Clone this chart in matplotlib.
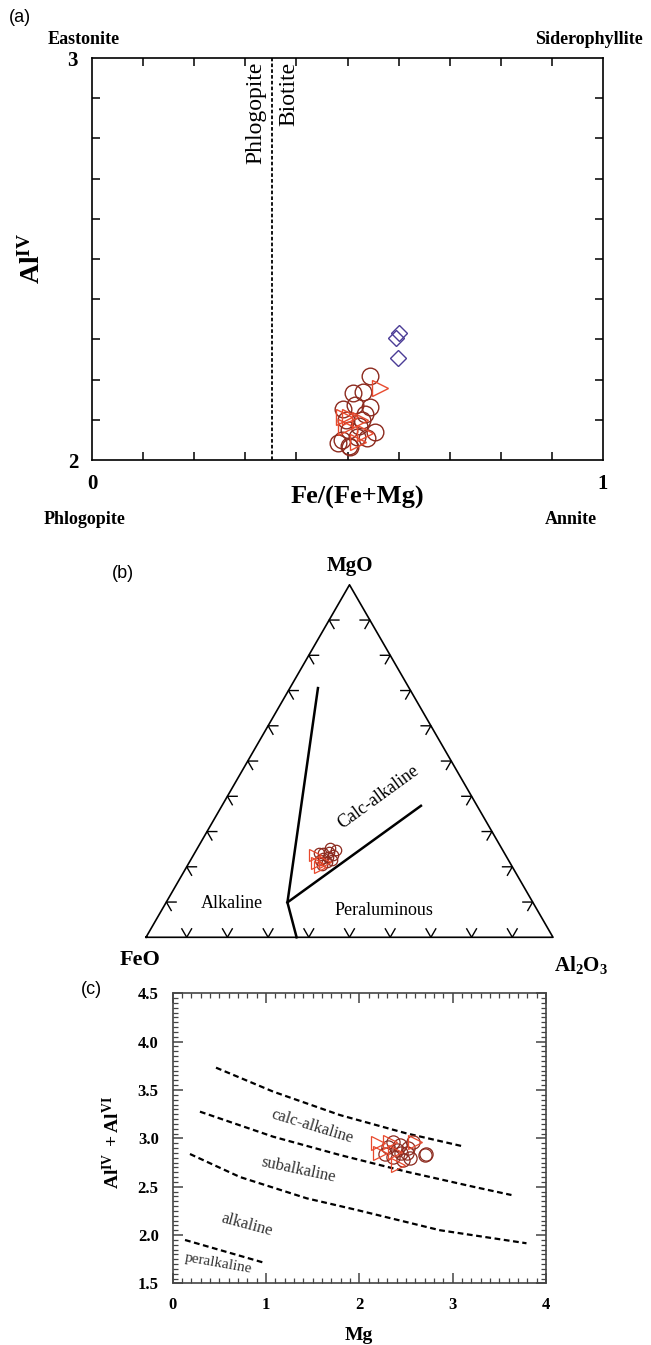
import numpy as np
import matplotlib
matplotlib.use("Agg")
import matplotlib.pyplot as plt
from matplotlib.ticker import MultipleLocator, FixedLocator

plt.rcParams['font.family'] = ['Liberation Serif', 'DejaVu Serif']
plt.rcParams['mathtext.fontset'] = 'custom'
plt.rcParams['mathtext.rm'] = 'Liberation Serif'
plt.rcParams['mathtext.bf'] = 'Liberation Serif:bold'
plt.rcParams['mathtext.it'] = 'Liberation Serif:italic'

W, H, DPI = 651, 1345, 100

C_CIRC = '#8c2a1e'
C_TRI = '#e84a2e'
C_DIA = '#4b3c96'

# ---------------- data ----------------
# (a) Fe/(Fe+Mg) vs Al(IV)
a_circ_x = [0.545, 0.530, 0.511, 0.544, 0.492, 0.515, 0.498, 0.528, 0.554, 0.489,
            0.505, 0.518, 0.502, 0.538, 0.481, 0.503, 0.522, 0.535]
a_circ_y = [2.209, 2.170, 2.166, 2.133, 2.126, 2.137, 2.100, 2.100, 2.070, 2.050,
            2.033, 2.058, 2.075, 2.054, 2.042, 2.035, 2.085, 2.115]
a_tri_x = [0.564, 0.505, 0.524, 0.498, 0.521, 0.534, 0.494]
a_tri_y = [2.178, 2.108, 2.100, 2.083, 2.046, 2.067, 2.108]
a_dia_x = [0.600, 0.595, 0.599]
a_dia_y = [2.316, 2.303, 2.253]
a_divide = 0.352   # phlogopite / biotite boundary

# (b) ternary FeO - MgO - Al2O3 (fractions)
b_circ_feo = [0.422, 0.445, 0.423, 0.463, 0.449, 0.408, 0.457, 0.438, 0.466, 0.434, 0.430, 0.452]
b_circ_mgo = [0.253, 0.238, 0.234, 0.219, 0.215, 0.248, 0.238, 0.229, 0.205, 0.219, 0.243, 0.226]
b_circ_al = [1 - f - m for f, m in zip(b_circ_feo, b_circ_mgo)]
b_tri_feo = [0.468, 0.472, 0.453, 0.476]
b_tri_mgo = [0.234, 0.200, 0.215, 0.210]
b_tri_al = [1 - f - m for f, m in zip(b_tri_feo, b_tri_mgo)]
# field boundaries: (FeO, MgO, Al2O3)
b_bound_left = [(0.630, 0.000, 0.370), (0.603, 0.099, 0.298), (0.224, 0.707, 0.069)]
b_bound_right = [(0.603, 0.099, 0.298), (0.138, 0.373, 0.489)]

# (c) Mg vs Al(IV)+Al(VI)
c_circ_mg = [2.363, 2.274, 2.399, 2.506, 2.577, 2.702, 2.710, 2.470, 2.363, 2.310,
             2.540, 2.435, 2.450, 2.520]
c_circ_al = [2.965, 2.838, 2.880, 2.845, 2.965, 2.828, 2.838, 2.776, 2.811, 2.914,
             2.793, 2.930, 2.850, 2.900]
c_tri_mg = [2.203, 2.220, 2.417, 2.595, 2.330, 2.380]
c_tri_al = [2.949, 2.845, 2.724, 2.965, 2.965, 2.860]
c_curve1_x = [0.465, 1.078, 1.792, 2.506, 3.095]
c_curve1_y = [3.731, 3.483, 3.241, 3.051, 2.921]
c_curve2_x = [0.293, 1.078, 1.792, 2.506, 3.219, 3.630]
c_curve2_y = [3.276, 3.017, 2.828, 2.655, 2.500, 2.414]
c_curve3_x = [0.186, 0.722, 1.436, 1.971, 2.863, 3.791]
c_curve3_y = [2.838, 2.600, 2.380, 2.260, 2.050, 1.915]
c_curve4_x = [0.133, 0.979]
c_curve4_y = [1.949, 1.714]


def px_axes(fig, left, top, right, bottom):
    return fig.add_axes([left / W, 1 - bottom / H, (right - left) / W, (bottom - top) / H])


def ftext(fig, x, y, s, **kw):
    fig.text(x / W, 1 - y / H, s, ha='center', va='center', **kw)


def tern_xy(feo, mgo, al):
    feo, mgo, al = np.asarray(feo), np.asarray(mgo), np.asarray(al)
    tot = feo + mgo + al
    m = mgo / tot
    a = al / tot
    return a + m / 2, m * np.sqrt(3) / 2


fig = plt.figure(figsize=(W / DPI, H / DPI), dpi=DPI)

# ================= panel (a) =================
ax = px_axes(fig, 92, 58, 603, 460)
ax.set_xlim(0, 1)
ax.set_ylim(2, 3)
ax.axvline(a_divide, color='black', lw=1.3, ls=(0, (2, 1.2)))
ax.plot(a_circ_x, a_circ_y, 'o', ms=12, mfc='none', mec=C_CIRC, mew=1.0)
ax.plot(a_tri_x, a_tri_y, '>', ms=12, mfc='none', mec=C_TRI, mew=1.0)
ax.plot(a_dia_x, a_dia_y, 'D', ms=8.5, mfc='none', mec=C_DIA, mew=1.0)
ax.text(0.321, 2.99, 'Phlogopite', rotation=90, ha='center', va='top', fontsize=17)
ax.text(0.3855, 2.99, 'Biotite', rotation=90, ha='center', va='top', fontsize=17)
ax.xaxis.set_major_locator(FixedLocator([0, 1]))
ax.yaxis.set_major_locator(FixedLocator([2, 3]))
ax.set_xticklabels(['0', '1'], fontsize=15, fontweight='bold')
ax.set_yticklabels(['2', '3'], fontsize=15, fontweight='bold')
ax.xaxis.set_minor_locator(MultipleLocator(0.1))
ax.yaxis.set_minor_locator(MultipleLocator(0.1))
ax.tick_params(which='both', direction='in', top=True, right=True, width=1.1)
ax.tick_params(which='major', length=0, pad=10)
ax.tick_params(which='minor', length=6)
for sp in ax.spines.values():
    sp.set_linewidth(1.2)

ftext(fig, 357, 497, 'Fe/(Fe+Mg)', fontsize=19, fontweight='bold')
ftext(fig, 32, 258, r'$\mathbf{Al^{IV}}$', fontsize=20, rotation=90)
ftext(fig, 84, 40, 'Eastonite', fontsize=13, fontweight='bold')
ftext(fig, 589, 40, 'Siderophyllite', fontsize=13, fontweight='bold')
ftext(fig, 85, 520, 'Phlogopite', fontsize=13, fontweight='bold')
ftext(fig, 571, 520, 'Annite', fontsize=13, fontweight='bold')
ftext(fig, 20, 18, '(a)', fontsize=13, family='Liberation Sans')

# ================= panel (b) =================
bx = px_axes(fig, 64.6, 544.1, 634.4, 978)
bx.set_xlim(-0.2, 1.2)
bx.set_ylim(-0.1, 0.966)
bx.axis('off')
s3 = np.sqrt(3) / 2
corners = np.array([[0, 0], [1, 0], [0.5, s3], [0, 0]])
bx.plot(corners[:, 0], corners[:, 1], color='black', lw=1.2)

L = 0.024
for t in np.arange(1, 10) / 10:
    # bottom side
    px, py = t, 0.0
    bx.plot([px - L * 0.5, px, px + L * 0.5], [py + L * s3, py, py + L * s3], color='black', lw=1.0)
    # left side
    px, py = 0.5 * t, s3 * t
    bx.plot([px + L, px, px + L * 0.5], [py, py, py - L * s3], color='black', lw=1.0)
    # right side
    px, py = 1 - 0.5 * t, s3 * t
    bx.plot([px - L, px, px - L * 0.5], [py, py, py - L * s3], color='black', lw=1.0)

for bnd in (b_bound_left, b_bound_right):
    f, m, a = zip(*bnd)
    x, y = tern_xy(f, m, a)
    bx.plot(x, y, color='black', lw=1.8)

x, y = tern_xy(b_circ_feo, b_circ_mgo, b_circ_al)
bx.plot(x, y, 'o', ms=7.5, mfc='none', mec=C_CIRC, mew=0.9)
x, y = tern_xy(b_tri_feo, b_tri_mgo, b_tri_al)
bx.plot(x, y, '>', ms=8.5, mfc='none', mec=C_TRI, mew=0.9)

bx.text(0.501, 0.912, 'MgO', fontsize=15, fontweight='bold', ha='center', va='center')
bx.text(-0.015, -0.055, 'FeO', fontsize=16, fontweight='bold', ha='center', va='center')
bx.text(1.069, -0.068, r'$\mathbf{Al_2O_3}$', fontsize=15, ha='center', va='center')
bx.text(0.2105, 0.0835, 'Alkaline', fontsize=13, ha='center', va='center')
bx.text(0.585, 0.067, 'Peraluminous', fontsize=13, ha='center', va='center')
bx.text(0.572, 0.345, 'Calc-alkaline', fontsize=13, ha='center', va='center', rotation=36)
ftext(fig, 123, 573, '(b)', fontsize=13, family='Liberation Sans')

# ================= panel (c) =================
cx = px_axes(fig, 172.6, 993.3, 546, 1283.4)
cx.set_xlim(0, 4)
cx.set_ylim(1.5, 4.5)
dash = (0, (2.6, 1.6))
for xs, ys in ((c_curve1_x, c_curve1_y), (c_curve2_x, c_curve2_y),
               (c_curve3_x, c_curve3_y), (c_curve4_x, c_curve4_y)):
    cx.plot(xs, ys, color='black', lw=1.6, ls=dash)
cx.plot(c_circ_mg, c_circ_al, 'o', ms=9.5, mfc='none', mec=C_CIRC, mew=0.9)
cx.plot(c_tri_mg, c_tri_al, '>', ms=10, mfc='none', mec=C_TRI, mew=0.9)

cx.text(1.49, 3.12, 'calc-alkaline', fontsize=12, rotation=-17, ha='center', va='center', color='#333333')
cx.text(1.346, 2.673, 'subalkaline', fontsize=12, rotation=-12, ha='center', va='center', color='#333333')
cx.text(0.79, 2.104, 'alkaline', fontsize=12, rotation=-15, ha='center', va='center', color='#333333')
cx.text(0.49, 1.708, 'peralkaline', fontsize=11, rotation=-10, ha='center', va='center', color='#333333')

cx.xaxis.set_major_locator(MultipleLocator(1))
cx.xaxis.set_minor_locator(MultipleLocator(0.1))
cx.yaxis.set_major_locator(MultipleLocator(0.5))
cx.yaxis.set_minor_locator(MultipleLocator(0.05))
cx.set_xticks([0, 1, 2, 3, 4])
cx.set_xticklabels(['0', '1', '2', '3', '4'], fontsize=12, fontweight='bold')
yt = [1.5, 2.0, 2.5, 3.0, 3.5, 4.0, 4.5]
cx.set_yticks(yt)
cx.set_yticklabels(['%.1f' % v for v in yt], fontsize=12, fontweight='bold')
cx.tick_params(which='both', direction='in', top=True, right=True, color='#444444')
cx.tick_params(which='major', length=7, width=1.1, pad=10)
cx.tick_params(which='minor', length=3.5, width=0.9)
for sp in cx.spines.values():
    sp.set_linewidth(1.2)
    sp.set_color('#444444')

ftext(fig, 359, 1336, 'Mg', fontsize=14, fontweight='bold')
ftext(fig, 112, 1142, r'$\mathbf{Al^{IV}\ +Al^{VI}}$', fontsize=14, rotation=90)
ftext(fig, 91, 990, '(c)', fontsize=13, family='Liberation Sans')

fig.savefig('out.png', dpi=DPI)
